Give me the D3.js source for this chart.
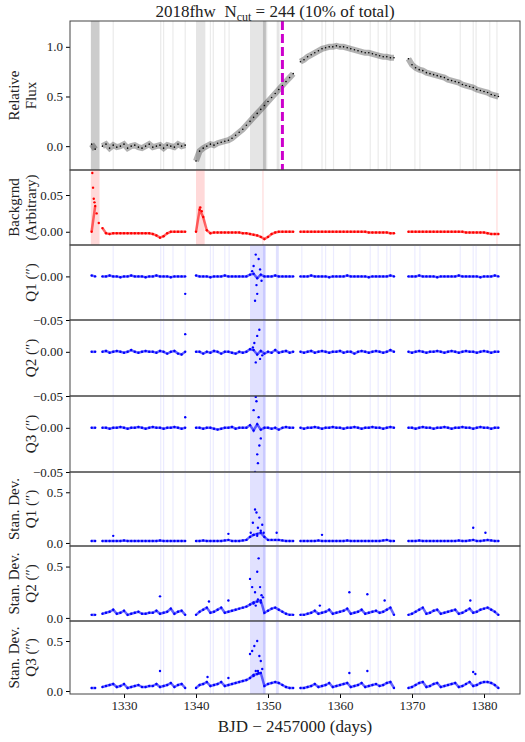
<!DOCTYPE html>
<html><head><meta charset="utf-8">
<script src="https://cdn.jsdelivr.net/npm/d3@7"></script>
<style>body{margin:0;background:#fff}</style>
</head><body><div id="chart"></div>
<script>
const WIDTH = 525, HEIGHT = 742;
const LEFT = 70, RIGHT = 520;
const FONT = "Liberation Serif";

// Time samples (BJD - 2457000)
const days = [1325.5,1326,
1327,1327.5,1328,1328.5,1329,1329.5,1330,1330.5,1331,1331.5,1332,1332.5,1333,1333.5,1334,1334.5,1335,1335.5,1336,1336.5,1337,1337.5,1338,1338.5,
1340,1340.5,1341,1341.5,1342,1342.5,1343,1343.5,1344,1344.5,1345,1345.5,1346,1346.5,1347,1347.5,1348,1348.5,1349,1349.5,1350,1350.5,1351,1351.5,1352,1352.5,1353,1353.5,
1354.5,1355,1355.5,1356,1356.5,1357,1357.5,1358,1358.5,1359,1359.5,1360,1360.5,1361,1361.5,1362,1362.5,1363,1363.5,1364,1364.5,1365,1365.5,1366,1366.5,1367,1367.5,
1369.5,1370,1370.5,1371,1371.5,1372,1372.5,1373,1373.5,1374,1374.5,1375,1375.5,1376,1376.5,1377,1377.5,1378,1378.5,1379,1379.5,1380,1380.5,1381,1381.5,1382];
const segStarts = [1325.5, 1327, 1340, 1354.5, 1369.5];

const flux = [0.02,-0.03,
0.0,0.02,-0.02,0.01,-0.01,0.0,0.02,-0.02,0.0,0.01,-0.01,-0.02,0.0,0.02,-0.01,0.0,0.01,-0.02,0.01,0.0,-0.01,0.02,0.0,0.01,
-0.15,-0.05,-0.02,0.0,0.02,0.01,0.03,0.04,0.05,0.06,0.08,0.11,0.14,0.17,0.21,0.25,0.29,0.33,0.37,0.41,0.45,0.49,0.53,0.57,0.61,0.65,0.69,0.73,
0.85,0.87,0.9,0.92,0.94,0.96,0.98,0.99,1.0,1.0,1.01,1.0,1.0,0.99,0.98,0.97,0.96,0.95,0.94,0.94,0.93,0.92,0.91,0.9,0.9,0.89,0.89,
0.88,0.82,0.79,0.77,0.76,0.74,0.73,0.72,0.71,0.7,0.69,0.67,0.66,0.65,0.64,0.62,0.61,0.6,0.59,0.57,0.56,0.55,0.54,0.52,0.51,0.5];

const backgrnd = [0.0,0.035,
0.005,-0.002,-0.003,-0.002,-0.002,-0.002,-0.002,-0.002,-0.002,-0.002,-0.002,-0.002,-0.002,-0.002,-0.003,-0.005,-0.008,-0.006,-0.002,0.0,0.0,0.0,0.0,0.0,
0.0,0.03,0.02,0.002,-0.002,-0.001,-0.001,-0.001,-0.001,-0.001,-0.001,-0.001,-0.001,-0.002,-0.002,-0.003,-0.004,-0.005,-0.007,-0.01,-0.007,-0.003,-0.001,0.0,0.0,0.0,0.0,0.0,
0.0,0.0,0.0,0.0,0.0,0.0,0.0,0.0,0.0,0.0,0.0,0.0,0.0,0.0,0.0,0.0,0.0,0.0,0.0,-0.001,-0.001,-0.001,-0.001,-0.001,-0.001,-0.002,-0.002,
0.0,0.0,0.0,0.0,0.0,0.0,0.0,0.0,0.0,0.0,0.0,0.0,0.0,0.0,0.0,0.0,-0.001,-0.001,-0.001,-0.001,-0.001,-0.001,-0.002,-0.003,-0.003,-0.003];
const bgExtra = [[1325.6,0.08],[1325.7,0.06],[1325.8,0.045],[1325.9,0.04],[1326.2,0.025],[1326.5,0.012],[1340.6,0.033],[1340.8,0.028]];

const q1 = [0.001,0.0,
0.0,0.0,0.001,0.0,0.0,-0.001,0.0,0.0,0.001,0.0,0.0,0.0,-0.001,0.0,0.0,0.001,0.0,0.0,0.0,-0.001,0.0,0.0,0.0,0.0,
0.001,0.0,0.0,0.0,-0.001,0.0,0.0,0.0,0.001,0.0,0.0,0.0,0.0,0.0,0.0,0.002,0.003,-0.002,0.002,0.0,0.0,0.0,0.001,0.0,0.0,0.0,0.0,0.0,
0.0,0.0,0.0,0.001,0.0,0.0,0.0,0.0,-0.001,0.0,0.0,0.0,0.0,0.001,0.0,0.0,0.0,0.0,0.0,-0.001,0.0,0.0,0.0,0.0,0.0,0.001,0.0,
0.0,0.0,0.0,0.001,0.0,0.0,0.0,0.0,-0.001,0.0,0.0,0.0,0.0,0.0,0.001,0.0,0.0,0.0,0.0,0.0,-0.001,0.0,0.0,0.0,0.001,0.0];
const q2 = [0.0,0.0,
0.0,0.001,-0.001,0.0,0.001,0.0,-0.001,0.0,0.002,0.0,-0.001,0.0,0.001,0.0,0.0,-0.001,0.001,0.0,-0.002,0.0,0.001,-0.002,-0.003,0.0,
0.0,0.0,-0.002,0.0,-0.001,0.001,0.0,-0.002,0.0,0.0,-0.001,-0.002,0.0,-0.001,0.0,0.003,0.002,-0.003,0.001,-0.002,0.0,-0.001,0.002,-0.001,0.0,0.001,-0.001,0.0,
0.0,-0.001,0.0,0.001,-0.001,0.0,0.001,0.0,-0.001,0.0,0.0,0.001,-0.001,0.0,0.0,-0.002,0.0,0.001,0.0,-0.001,0.0,0.001,0.0,-0.001,0.0,0.002,0.0,
0.0,-0.001,0.0,0.001,0.0,-0.001,0.0,0.0,0.001,0.0,-0.001,0.0,0.001,0.0,-0.001,0.0,0.001,0.0,0.0,-0.001,0.0,0.001,0.0,-0.001,0.0,0.0];
const q3 = [0.0,0.0,
0.0,0.0,-0.001,0.0,0.0,0.001,0.0,-0.001,0.0,0.0,0.001,0.0,-0.001,0.0,0.001,0.0,0.0,-0.001,0.0,0.0,0.001,0.0,-0.001,0.0,
0.0,0.0,-0.001,0.0,0.0,-0.001,-0.002,-0.001,0.0,0.0,0.001,-0.001,0.0,0.0,0.0,0.003,-0.003,0.004,-0.002,0.0,0.0,-0.001,0.0,-0.002,0.0,0.001,0.0,0.0,
0.0,-0.001,0.0,0.0,0.001,0.0,-0.001,0.0,0.0,0.001,0.0,0.0,-0.001,0.0,0.0,0.001,0.0,-0.001,0.0,0.0,0.001,0.0,0.0,-0.001,0.0,0.001,0.0,
0.0,0.0,-0.001,0.0,0.001,0.0,0.0,-0.001,0.0,0.0,0.001,0.0,-0.001,0.0,0.0,0.001,0.0,0.0,-0.001,0.0,0.001,0.0,0.0,-0.001,0.0,0.0];
const q1Extra = [[1348,0.012],[1348.3,0.025],[1348.5,-0.02],[1348.2,-0.028],[1348.7,0.02],[1348.9,0.008],[1348.4,-0.01],[1347.8,0.006],[1349.1,-0.005],[1338.5,-0.02]];
const q2Extra = [[1348.5,0.018],[1348.8,0.025],[1348.3,-0.012],[1348.9,-0.008],[1348.1,0.01],[1347.9,0.005],[1349.2,-0.004],[1338.5,0.02]];
const q3Extra = [[1348,0.02],[1348.4,0.03],[1348.8,-0.02],[1348.5,-0.03],[1348.6,-0.04],[1348.3,0.035],[1348.7,0.012],[1349,-0.012],[1348.2,-0.05],[1338.5,0.012]];

const sd1 = [0.02,0.02,
0.02,0.02,0.02,0.02,0.02,0.02,0.025,0.02,0.02,0.02,0.02,0.02,0.02,0.02,0.02,0.02,0.025,0.02,0.02,0.02,0.02,0.02,0.02,0.02,
0.02,0.02,0.025,0.02,0.02,0.02,0.02,0.02,0.025,0.03,0.02,0.02,0.02,0.025,0.03,0.06,0.08,0.09,0.1,0.06,0.03,0.03,0.03,0.03,0.025,0.02,0.02,0.02,
0.02,0.02,0.02,0.02,0.02,0.025,0.02,0.02,0.02,0.02,0.02,0.02,0.02,0.025,0.02,0.02,0.02,0.02,0.02,0.02,0.02,0.02,0.02,0.025,0.03,0.02,0.02,
0.02,0.02,0.02,0.025,0.02,0.02,0.02,0.02,0.02,0.02,0.02,0.02,0.02,0.02,0.025,0.02,0.02,0.025,0.03,0.02,0.02,0.025,0.03,0.025,0.02,0.02];
const sd2 = [0.03,0.03,
0.04,0.05,0.06,0.08,0.04,0.05,0.07,0.03,0.04,0.05,0.06,0.04,0.04,0.05,0.05,0.07,0.04,0.05,0.06,0.09,0.04,0.06,0.07,0.03,
0.03,0.06,0.08,0.1,0.05,0.06,0.08,0.1,0.05,0.06,0.07,0.08,0.09,0.1,0.11,0.13,0.15,0.16,0.17,0.05,0.07,0.09,0.1,0.08,0.06,0.04,0.03,0.03,
0.03,0.03,0.04,0.05,0.07,0.04,0.05,0.06,0.08,0.04,0.05,0.06,0.07,0.09,0.04,0.05,0.06,0.08,0.04,0.05,0.06,0.07,0.05,0.06,0.08,0.1,0.03,
0.03,0.04,0.06,0.08,0.1,0.04,0.05,0.07,0.08,0.04,0.05,0.06,0.07,0.08,0.04,0.05,0.07,0.09,0.05,0.06,0.08,0.09,0.1,0.08,0.06,0.03];
const sd3 = [0.03,0.03,
0.04,0.05,0.06,0.07,0.04,0.05,0.07,0.03,0.04,0.05,0.06,0.04,0.04,0.05,0.05,0.07,0.04,0.05,0.06,0.08,0.04,0.06,0.07,0.03,
0.03,0.06,0.07,0.09,0.05,0.06,0.07,0.09,0.05,0.06,0.07,0.08,0.09,0.1,0.11,0.13,0.16,0.17,0.18,0.05,0.07,0.08,0.09,0.08,0.06,0.04,0.03,0.03,
0.03,0.03,0.04,0.05,0.07,0.04,0.05,0.06,0.08,0.04,0.05,0.06,0.07,0.08,0.04,0.05,0.06,0.08,0.04,0.05,0.06,0.07,0.05,0.06,0.08,0.09,0.03,
0.03,0.04,0.06,0.08,0.09,0.04,0.05,0.07,0.08,0.04,0.05,0.06,0.07,0.08,0.04,0.05,0.07,0.09,0.05,0.06,0.08,0.09,0.09,0.08,0.06,0.03];
const sd1Extra = [[1347.6,0.1],[1347.9,0.2],[1348.2,0.33],[1348.4,0.3],[1348.6,0.15],[1348.8,0.25],[1349,0.12],[1349.2,0.18],[1348,0.08],[1348.5,0.07],[1349.4,0.1],[1351.2,0.1],[1357.5,0.08],[1378.5,0.15],[1380.2,0.1],[1328.5,0.07],[1344.5,0.09]];
const sd2Extra = [[1347.5,0.38],[1347.8,0.3],[1348.2,0.25],[1348.5,0.45],[1348.7,0.58],[1348.9,0.3],[1349.1,0.22],[1349.3,0.2],[1348,0.14],[1348.6,0.18],[1348.3,0.12],[1349,0.15],[1335,0.21],[1341.8,0.16],[1344.5,0.17],[1361.3,0.25],[1363.8,0.23],[1366.2,0.17],[1378.1,0.17],[1357.2,0.12]];
const sd3Extra = [[1347.5,0.37],[1347.8,0.4],[1348.1,0.45],[1348.5,0.5],[1348.8,0.35],[1349,0.3],[1348.3,0.2],[1348.7,0.18],[1349.2,0.22],[1348,0.15],[1348.6,0.2],[1335,0.2],[1363.8,0.2],[1361.3,0.18],[1378.5,0.19],[1378.8,0.17],[1344.5,0.13],[1341.6,0.14]];

// Masked intervals and cut lines
const darkBands = [[1325.4,1326.6],[1349.3,1349.7]];
const lightBands = [[1340,1341.3],[1347.5,1349.9],[1351.2,1351.6]];
const cutLines = [1328.5,1335.1,1335.5,1336.8,1338.5,1342,1342.4,1344,1344.6,1354.7,1357.5,1358,1359.1,1361.4,1364.2,1365.3,1366.5,1367,1370.4,1371.1,1376.7,1378.5,1378.9,1380.8,1381.8];
const bgBands = [[1325.4,1326.6],[1340,1341.2]];
const bgLines = [1349.3,1381.8];
const qBands = [[1347.5,1349.6],[1349.3,1349.7],[1351.1,1351.5]];
const peakDay = 1352.0;

const xTicks = [1330,1340,1350,1360,1370,1380];

const panels = [
  {top:21, bottom:170, domain:[-0.24,1.26], ticks:[0,0.5,1.0], fmt:".1f", label:["Relative","Flux"], vals:flux, extra:[], color:"#000", r:0.8, kind:"flux"},
  {top:170, bottom:245, domain:[-0.018,0.084], ticks:[0,0.05], fmt:".2f", label:["Backgrnd","(Arbitrary)"], vals:backgrnd, extra:bgExtra, color:"#f00", r:1.2, kind:"bg"},
  {top:245, bottom:320, domain:[-0.05,0.036], ticks:[-0.05,0], fmt:".2f", label:["Q1 (\u2033)"], vals:q1, extra:q1Extra, color:"#00f", r:1.2, kind:"q"},
  {top:320, bottom:396, domain:[-0.05,0.036], ticks:[-0.05,0], fmt:".2f", label:["Q2 (\u2033)"], vals:q2, extra:q2Extra, color:"#00f", r:1.2, kind:"q"},
  {top:396, bottom:472, domain:[-0.05,0.036], ticks:[-0.05,0], fmt:".2f", label:["Q3 (\u2033)"], vals:q3, extra:q3Extra, color:"#00f", r:1.2, kind:"q"},
  {top:472, bottom:546, domain:[-0.03,0.7], ticks:[0,0.5], fmt:".1f", label:["Stan. Dev.","Q1 (\u2033)"], vals:sd1, extra:sd1Extra, color:"#00f", r:1.2, kind:"q"},
  {top:546, bottom:621, domain:[-0.03,0.7], ticks:[0,0.5], fmt:".1f", label:["Stan. Dev.","Q2 (\u2033)"], vals:sd2, extra:sd2Extra, color:"#00f", r:1.2, kind:"q"},
  {top:621, bottom:694, domain:[-0.03,0.7], ticks:[0,0.5], fmt:".1f", label:["Stan. Dev.","Q3 (\u2033)"], vals:sd3, extra:sd3Extra, color:"#00f", r:1.2, kind:"q"}
];

let svg = d3.select("#chart").append("svg").attr("width", WIDTH).attr("height", HEIGHT)
            .attr("font-family", FONT);
let x = d3.scaleLinear().domain([1322.5, 1385]).range([LEFT, RIGHT]);

let title = svg.append("text").attr("x", 275).attr("y", 17).attr("text-anchor", "middle")
   .attr("font-size", 17).attr("fill", "#222").attr("font-family", FONT).style("white-space", "pre");
title.append("tspan").text("2018fhw  N");
title.append("tspan").attr("font-size", 12).attr("dy", 4).text("cut");
title.append("tspan").attr("dy", -4).text(" = 244 (10% of total)");

panels.forEach((p, i) => {
  let y = d3.scaleLinear().domain(p.domain).range([p.bottom, p.top]);
  let g = svg.append("g");
  let clip = "clip" + i;
  svg.append("clipPath").attr("id", clip).append("rect")
     .attr("x", LEFT).attr("y", p.top).attr("width", RIGHT - LEFT).attr("height", p.bottom - p.top);
  let body = g.append("g").attr("clip-path", `url(#${clip})`);

  // shaded intervals
  let band = (lo, hi, fill, op) => body.append("rect").attr("x", x(lo)).attr("width", x(hi) - x(lo))
      .attr("y", p.top).attr("height", p.bottom - p.top).attr("fill", fill).attr("opacity", op);
  if (p.kind === "flux") {
    cutLines.forEach(t => band(t - 0.08, t + 0.08, "#aaa", 0.25));
    lightBands.forEach(b => band(b[0], b[1], "#aaa", 0.3));
    darkBands.forEach(b => band(b[0], b[1], "#999", 0.5));
  } else if (p.kind === "bg") {
    bgBands.forEach(b => band(b[0], b[1], "#f66", 0.25));
    bgLines.forEach(t => band(t - 0.08, t + 0.08, "#f66", 0.25));
  } else {
    cutLines.forEach(t => band(t - 0.08, t + 0.08, "#99f", 0.2));
    qBands.forEach(b => band(b[0], b[1], "#88f", 0.25));
  }

  let pts = days.map((t, k) => [t, p.vals[k]]);
  // faint band joining samples within each segment
  let line = d3.line().x(d => x(d[0])).y(d => y(d[1]));
  let segs = [];
  pts.forEach(d => {
    if (segStarts.includes(d[0])) segs.push([]);
    segs[segs.length - 1].push(d);
  });
  segs.forEach(s => body.append("path").attr("d", line(s)).attr("fill", "none")
      .attr("stroke", p.color).attr("stroke-opacity", p.kind === "flux" ? 0.3 : 0.6)
      .attr("stroke-width", p.kind === "flux" ? 6 : 2.5));

  body.selectAll(".pt").data(pts.concat(p.extra)).join("circle")
      .attr("cx", d => x(d[0])).attr("cy", d => y(d[1])).attr("r", p.r).attr("fill", p.color);

  if (p.kind === "flux") {
    body.append("line").attr("x1", x(peakDay)).attr("x2", x(peakDay)).attr("y1", p.top).attr("y2", p.bottom)
        .attr("stroke", "#c0c").attr("stroke-width", 3).attr("stroke-dasharray", "9,4");
  }

  // axes
  let ya = g.append("g").attr("transform", `translate(${LEFT},0)`)
      .call(d3.axisLeft(y).tickValues(p.ticks).tickFormat(d => d3.format(p.fmt)(d).replace("-", "\u2212")).tickSize(4));
  ya.selectAll("text").attr("font-size", 13).attr("font-family", FONT).attr("fill", "#222");
  ya.select(".domain").remove();
  let last = i === panels.length - 1;
  let xa = g.append("g").attr("transform", `translate(0,${p.bottom})`)
      .call(d3.axisBottom(x).tickValues(xTicks).tickSize(last ? 4 : 0).tickFormat(last ? d3.format("d") : ""));
  xa.selectAll("text").attr("font-size", 13).attr("font-family", FONT).attr("fill", "#222");
  xa.select(".domain").remove();
  g.append("rect").attr("x", LEFT).attr("y", p.top).attr("width", RIGHT - LEFT).attr("height", p.bottom - p.top)
   .attr("fill", "none").attr("stroke", "#444").attr("stroke-width", 1);

  // y label
  let cy = (p.top + p.bottom) / 2;
  let lab = svg.append("text").attr("transform", `translate(${p.label.length > 1 ? 19 : 36},${cy}) rotate(-90)`)
      .attr("text-anchor", "middle").attr("font-size", 15).attr("fill", "#222").attr("font-family", FONT);
  p.label.forEach((s, k) => lab.append("tspan").attr("x", 0).attr("dy", k ? 17 : 0).text(s));
});

svg.append("text").attr("x", (LEFT + RIGHT) / 2).attr("y", 732).attr("text-anchor", "middle")
   .attr("font-size", 17).attr("fill", "#222").attr("font-family", FONT).text("BJD \u2212 2457000 (days)");
</script></body></html>
